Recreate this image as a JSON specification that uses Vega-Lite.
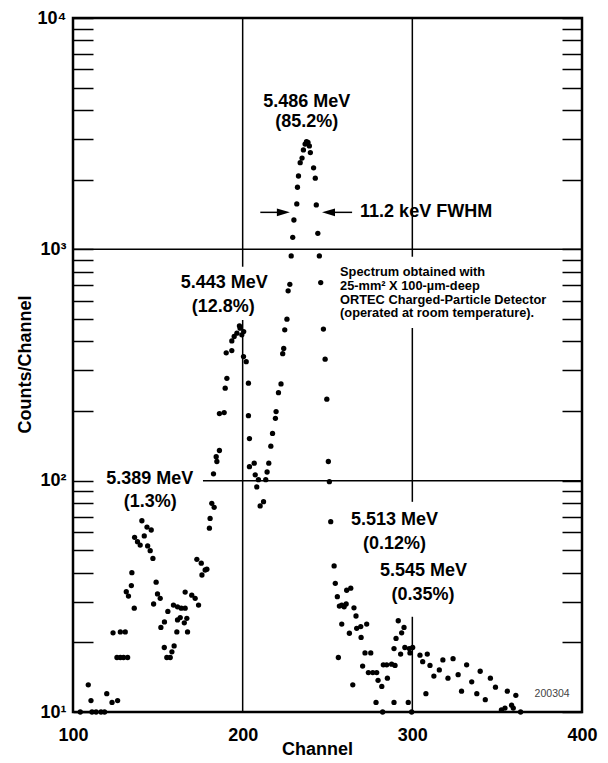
{
  "$schema": "https://vega.github.io/schema/vega-lite/v6.json",
  "width": 509,
  "height": 694,
  "autosize": {"type": "none"},
  "padding": {"left": 73, "top": 18, "right": 26, "bottom": 51},
  "background": "white",
  "config": {
    "view": {"stroke": "black", "strokeWidth": 2.5},
    "font": "Liberation Sans",
    "axis": {
      "labelFont": "Liberation Sans", "labelFontWeight": "bold", "labelFontSize": 18, "labelColor": "black",
      "titleFont": "Liberation Sans", "titleFontWeight": "bold", "titleFontSize": 18, "titleColor": "black",
      "domain": false, "grid": false, "tickColor": "black"
    }
  },
  "datasets": {
    "pts": [
      {"channel":104.3,"counts":10},{"channel":109,"counts":13.1},{"channel":110.6,"counts":11.2},{"channel":111.2,"counts":10},{"channel":113.6,"counts":10},{"channel":116.5,"counts":10},{"channel":118.6,"counts":10},{"channel":119.9,"counts":12},{"channel":123,"counts":11},{"channel":126.3,"counts":11.2},
      {"channel":123.6,"counts":22},{"channel":127.9,"counts":22.2},{"channel":130.8,"counts":22.2},{"channel":125.9,"counts":17.2},{"channel":127.9,"counts":17.2},{"channel":129.8,"counts":17.2},{"channel":132.2,"counts":17.2},
      {"channel":134.7,"counts":40},{"channel":134.4,"counts":35.2},{"channel":131.4,"counts":33.1},{"channel":132.7,"counts":31.7},{"channel":136.1,"counts":28.1},{"channel":140.6,"counts":67.1},{"channel":136.3,"counts":56.9},{"channel":138,"counts":54.5},{"channel":139.6,"counts":52.7},{"channel":142,"counts":57.7},{"channel":143.6,"counts":63},{"channel":146.1,"counts":61.2},{"channel":144,"counts":52.2},{"channel":145.5,"counts":49.8},{"channel":147.1,"counts":46.1},{"channel":149,"counts":36.4},{"channel":149.8,"counts":32.4},{"channel":151.4,"counts":31},{"channel":147.5,"counts":29.3},{"channel":155.9,"counts":27.2},{"channel":153.9,"counts":24.5},{"channel":151.8,"counts":23.2},{"channel":153.8,"counts":19},{"channel":155.3,"counts":17.2},{"channel":157.3,"counts":17.2},{"channel":159.6,"counts":19.3},{"channel":158.3,"counts":18.2},
      {"channel":159.2,"counts":29},{"channel":161.6,"counts":28.5},{"channel":163.8,"counts":28.1},{"channel":166.1,"counts":28.1},{"channel":161.6,"counts":25},{"channel":163.2,"counts":25.6},{"channel":165.6,"counts":24.3},{"channel":167.1,"counts":25.4},{"channel":161.2,"counts":22.2},{"channel":167.5,"counts":22.2},{"channel":166.1,"counts":33},{"channel":170,"counts":32},{"channel":172,"counts":31},{"channel":174,"counts":29},{"channel":173,"counts":45.7},{"channel":175.6,"counts":44},{"channel":177.9,"counts":41.1},{"channel":176,"counts":39.1},{"channel":178.9,"counts":41.4},
      {"channel":180.4,"counts":62.3},{"channel":180.8,"counts":68.7},{"channel":181.8,"counts":79.8},{"channel":183.2,"counts":76.7},{"channel":182.8,"counts":107},{"channel":184.4,"counts":127},{"channel":184.8,"counts":121},{"channel":186.3,"counts":135},{"channel":186.3,"counts":195},{"channel":189.1,"counts":197},{"channel":189.7,"counts":251},{"channel":190.7,"counts":277},{"channel":190.3,"counts":357},{"channel":193.6,"counts":365},{"channel":193.6,"counts":402},{"channel":195,"counts":420},{"channel":196.6,"counts":434},{"channel":198.5,"counts":456},{"channel":199.5,"counts":427},{"channel":198.1,"counts":467},{"channel":200.6,"counts":441},{"channel":200.5,"counts":344},{"channel":202.1,"counts":327},{"channel":203.4,"counts":264},{"channel":203.4,"counts":191},{"channel":204,"counts":152},{"channel":204,"counts":115},{"channel":206.8,"counts":119},{"channel":207.4,"counts":106},{"channel":208.3,"counts":94},{"channel":209.3,"counts":101},{"channel":210.3,"counts":77.8},{"channel":212.3,"counts":81.1},{"channel":213.6,"counts":101},{"channel":214.4,"counts":109},{"channel":215.4,"counts":119},
      {"channel":216.6,"counts":141},{"channel":217.6,"counts":160},{"channel":219.3,"counts":186},{"channel":219.7,"counts":199},{"channel":221.1,"counts":240},{"channel":222.6,"counts":262},{"channel":223.6,"counts":354},{"channel":224.2,"counts":373},{"channel":224.8,"counts":449},{"channel":226.1,"counts":499},{"channel":226.8,"counts":662},{"channel":227.8,"counts":706},{"channel":228.6,"counts":936},{"channel":229.5,"counts":1127},{"channel":230.2,"counts":1339},{"channel":231.9,"counts":1571},{"channel":232.3,"counts":1855},{"channel":232.9,"counts":2075},{"channel":233.9,"counts":2370},{"channel":235,"counts":2480},{"channel":235.8,"counts":2690},{"channel":236.8,"counts":2850},{"channel":237.6,"counts":2920},{"channel":238.5,"counts":2900},{"channel":239.3,"counts":2800},{"channel":239.9,"counts":2620},{"channel":241.8,"counts":2250},{"channel":242.8,"counts":2030},{"channel":243.4,"counts":1556},{"channel":244.3,"counts":1173},{"channel":245.2,"counts":936},{"channel":246,"counts":718},{"channel":247.6,"counts":452},{"channel":248.6,"counts":335},{"channel":249.6,"counts":225},{"channel":250.5,"counts":121},{"channel":251.1,"counts":99},{"channel":251.9,"counts":66.5},{"channel":253.9,"counts":42.8},{"channel":254.6,"counts":36},{"channel":255.8,"counts":31.5},
      {"channel":257,"counts":28.7},{"channel":258.4,"counts":29},{"channel":259.8,"counts":28.5},{"channel":261,"counts":29.3},{"channel":261.3,"counts":33.6},{"channel":263.7,"counts":34.3},{"channel":265.6,"counts":28.2},{"channel":266.8,"counts":26},{"channel":258.4,"counts":24},{"channel":262.9,"counts":21.9},{"channel":267.2,"counts":23},{"channel":269.6,"counts":23.4},{"channel":273.1,"counts":24},{"channel":269.8,"counts":21},{"channel":256.4,"counts":17.2},{"channel":272.1,"counts":18},{"channel":275.5,"counts":18},{"channel":270.7,"counts":15.8},{"channel":274.1,"counts":14.8},{"channel":276.7,"counts":14.8},{"channel":279,"counts":14.8},{"channel":279.8,"counts":13.7},{"channel":264.9,"counts":13.1},{"channel":278.6,"counts":11},
      {"channel":282,"counts":12.9},{"channel":282.9,"counts":16},{"channel":284.9,"counts":16},{"channel":287.8,"counts":16.1},{"channel":289.8,"counts":15.9},{"channel":285.3,"counts":14},{"channel":289.2,"counts":18.8},{"channel":290.4,"counts":20.8},{"channel":293.7,"counts":22},{"channel":291.7,"counts":24.8},{"channel":295.1,"counts":23.2},{"channel":293.1,"counts":17.8},{"channel":295.6,"counts":19},{"channel":298.2,"counts":18.8},{"channel":300.2,"counts":19},{"channel":298.6,"counts":18},{"channel":304.5,"counts":17.6},{"channel":308.8,"counts":17.8},{"channel":306.1,"counts":16.5},{"channel":310.4,"counts":15.9},{"channel":312.7,"counts":14.3},{"channel":315.9,"counts":15.2},{"channel":308,"counts":12},{"channel":289.2,"counts":11},{"channel":297.6,"counts":11},{"channel":282.5,"counts":10},{"channel":299.6,"counts":10},
      {"channel":318,"counts":16.8},{"channel":321,"counts":14},{"channel":324,"counts":17},{"channel":327,"counts":14.5},{"channel":329,"counts":12.3},{"channel":332,"counts":16},{"channel":335,"counts":13.5},{"channel":338,"counts":12},{"channel":340,"counts":15},{"channel":343,"counts":11.3},{"channel":346,"counts":14},{"channel":349,"counts":12.8},{"channel":352.5,"counts":10.2},{"channel":354.6,"counts":10.4},{"channel":356,"counts":12.3},{"channel":358.5,"counts":10.7},{"channel":359.5,"counts":10.4},{"channel":361,"counts":11.8},{"channel":363.8,"counts":10}
    ],
    "vgrid": [
      {"channel":200,"counts":10,"counts2":495},
      {"channel":200,"counts":841,"counts2":10000},
      {"channel":300,"counts":10,"counts2":25.8},
      {"channel":300,"counts":81,"counts2":457},
      {"channel":300,"counts":929,"counts2":10000}
    ],
    "hgrid": [
      {"counts":100,"channel":176.6,"channel2":400},
      {"counts":1000,"channel":100,"channel2":400}
    ],
    "peaks": [
      {"label":"5.486 MeV","channel":237.8,"counts":4352},
      {"label":"(85.2%)","channel":237.8,"counts":3565},
      {"label":"5.443 MeV","channel":189.1,"counts":713},
      {"label":"(12.8%)","channel":188.5,"counts":565},
      {"label":"5.389 MeV","channel":145.2,"counts":101.4},
      {"label":"(1.3%)","channel":145.5,"counts":81},
      {"label":"5.513 MeV","channel":289.5,"counts":67.6},
      {"label":"(0.12%)","channel":289.5,"counts":53.2},
      {"label":"5.545 MeV","channel":306.6,"counts":40.5},
      {"label":"(0.35%)","channel":306.3,"counts":32.1}
    ],
    "note": [
      {"label":"Spectrum obtained with","channel":257.4,"counts":794.6},
      {"label":"25-mm² X 100-µm-deep","channel":257.4,"counts":693.8},
      {"label":"ORTEC Charged-Particle Detector","channel":257.4,"counts":606.2},
      {"label":"(operated at room temperature).","channel":257.4,"counts":529.4}
    ],
    "fwhm": [{"label":"11.2 keV FWHM","channel":269.2,"counts":1445}],
    "arrows": [
      {"dir":"right","channel":210.4,"channel2":224,"counts":1445},
      {"dir":"left","channel":264.5,"channel2":250.6,"counts":1445}
    ],
    "code": [{"label":"200304","channel":382.4,"counts":11.96}]
  },
  "layer": [
    {
      "data": {"name": "vgrid"},
      "mark": {"type": "rule", "color": "black", "strokeWidth": 1.5},
      "encoding": {
        "x": {"field": "channel", "type": "quantitative", "title": "Channel",
          "scale": {"domain": [100, 400], "nice": false, "zero": false},
          "axis": {"values": [100, 200, 300, 400], "ticks": false, "labelPadding": 14, "labelFlush": false, "labelOverlap": false,
                   "title": "Channel", "titleX": 244, "titleY": 42, "titleBaseline": "alphabetic"}},
        "y": {"field": "counts", "type": "quantitative", "title": "Counts/Channel",
          "scale": {"type": "log", "domain": [10, 10000], "nice": false},
          "axis": {"orient": "left",
                   "values": [10,20,30,40,50,60,70,80,90,100,200,300,400,500,600,700,800,900,1000,2000,3000,4000,5000,6000,7000,8000,9000,10000],
                   "tickSize": -20, "tickWidth": 1.5, "labelPadding": 27, "labelOverlap": false, "labelFlush": false,
                   "labelExpr": "datum.value == 10 ? '10¹' : datum.value == 100 ? '10²' : datum.value == 1000 ? '10³' : datum.value == 10000 ? '10⁴' : ''",
                   "title": "Counts/Channel", "titleX": -43, "titleY": 346, "titleBaseline": "alphabetic"}},
        "y2": {"field": "counts2"}
      }
    },
    {
      "data": {"name": "hgrid"},
      "mark": {"type": "rule", "color": "black", "strokeWidth": 1.5},
      "encoding": {
        "x": {"field": "channel", "type": "quantitative", "title": "Channel"},
        "x2": {"field": "channel2"},
        "y": {"field": "counts", "type": "quantitative", "axis": null}
      }
    },
    {
      "data": {"name": "pts"},
      "mark": {"type": "circle", "color": "black", "opacity": 1, "size": 28},
      "encoding": {
        "x": {"field": "channel", "type": "quantitative", "title": "Channel"},
        "y": {"field": "counts", "type": "quantitative",
          "axis": {"orient": "right",
                   "values": [10,20,30,40,50,60,70,80,90,100,200,300,400,500,600,700,800,900,1000,2000,3000,4000,5000,6000,7000,8000,9000,10000],
                   "tickSize": -20, "tickWidth": 1.5, "labels": false, "title": null}}
      }
    },
    {
      "data": {"name": "peaks"},
      "mark": {"type": "text", "fontSize": 18, "fontWeight": "bold", "font": "Liberation Sans", "align": "center", "baseline": "middle", "color": "black"},
      "encoding": {
        "x": {"field": "channel", "type": "quantitative", "title": "Channel"},
        "y": {"field": "counts", "type": "quantitative", "axis": null},
        "text": {"field": "label"}
      }
    },
    {
      "data": {"name": "note"},
      "mark": {"type": "text", "fontSize": 12.8, "fontWeight": "bold", "font": "Liberation Sans", "align": "left", "baseline": "middle", "color": "black"},
      "encoding": {
        "x": {"field": "channel", "type": "quantitative", "title": "Channel"},
        "y": {"field": "counts", "type": "quantitative", "axis": null},
        "text": {"field": "label"}
      }
    },
    {
      "data": {"name": "fwhm"},
      "mark": {"type": "text", "fontSize": 18, "fontWeight": "bold", "font": "Liberation Sans", "align": "left", "baseline": "middle", "color": "black"},
      "encoding": {
        "x": {"field": "channel", "type": "quantitative", "title": "Channel"},
        "y": {"field": "counts", "type": "quantitative", "axis": null},
        "text": {"field": "label"}
      }
    },
    {
      "data": {"name": "arrows"},
      "mark": {"type": "rule", "color": "black", "strokeWidth": 1.5},
      "encoding": {
        "x": {"field": "channel", "type": "quantitative", "title": "Channel"},
        "x2": {"field": "channel2"},
        "y": {"field": "counts", "type": "quantitative", "axis": null}
      }
    },
    {
      "data": {"name": "arrows"},
      "mark": {"type": "point", "filled": true, "color": "black", "opacity": 1, "size": 169, "strokeWidth": 0},
      "encoding": {
        "x": {"field": "channel2", "type": "quantitative", "title": "Channel"},
        "y": {"field": "counts", "type": "quantitative", "axis": null},
        "shape": {"field": "dir", "type": "nominal", "legend": null,
          "scale": {"domain": ["right", "left"], "range": ["M-1,-0.6L1,0L-1,0.6Z", "M1,-0.6L-1,0L1,0.6Z"]}}
      }
    },
    {
      "data": {"name": "code"},
      "mark": {"type": "text", "fontSize": 10.5, "font": "Liberation Sans", "align": "center", "baseline": "middle", "color": "#444444"},
      "encoding": {
        "x": {"field": "channel", "type": "quantitative", "title": "Channel"},
        "y": {"field": "counts", "type": "quantitative", "axis": null},
        "text": {"field": "label"}
      }
    }
  ],
  "resolve": {"axis": {"y": "independent"}}
}
